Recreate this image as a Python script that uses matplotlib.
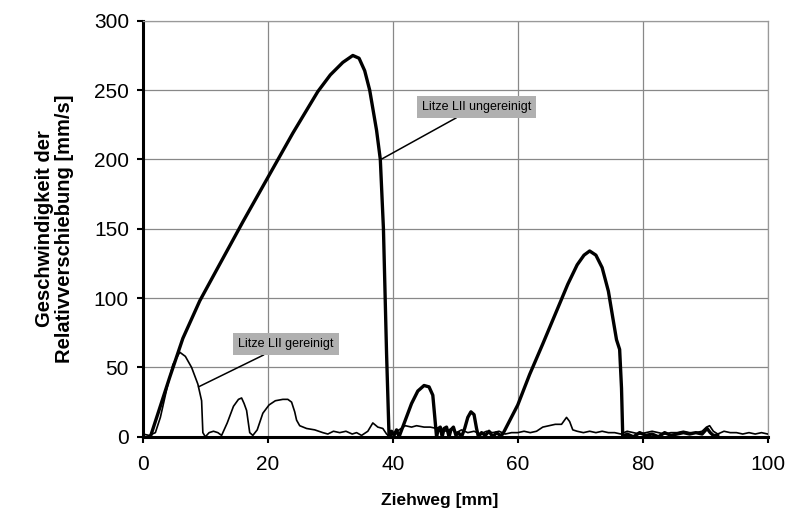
import matplotlib
matplotlib.use("Agg")
import matplotlib.pyplot as plt

# Litze LII ungereinigt (thick curve)
x_ungereinigt = [1.2, 2.5, 4.3, 6.4, 9.1, 12, 16, 20, 24, 28, 30, 32, 33.6, 34.6, 35.5,
                 36.3, 37.4, 38.0, 38.5, 39.0, 39.4, 39.8, 40.2, 40.6, 41.0,
                 42, 43, 44, 45, 45.8, 46.4, 46.8, 47.0, 47.3, 47.6, 47.9, 48.2,
                 48.6, 49.0, 49.3, 49.7, 50.1, 50.5, 51.0, 51.5, 52.0, 52.5, 53.0,
                 53.4, 53.7, 54.2, 54.8, 55.4, 56.0, 56.6, 57.2, 57.6,
                 60, 61.9, 64, 66.7, 68, 69.5, 70.6, 71.5, 72.5, 73.5, 74.5, 75.2,
                 75.8, 76.3, 76.6, 76.8, 77.5, 78.5, 79.5, 80.5, 81.5, 82.5, 83.5,
                 84.5, 85.5, 86.5, 87.5, 88.5, 89.5, 90.3, 90.8, 91.3, 92.0]
y_ungereinigt = [0, 18, 43, 71, 98, 122, 155, 187, 219, 249, 261, 270, 275, 273, 264,
                 250, 221, 200, 150, 60, 0, 4, 1, 5, 0,
                 12, 24, 33, 37, 36, 30, 10, 0, 6, 7, 0, 6,
                 7, 0, 5, 7, 1, 3, 0, 6, 14, 18, 16,
                 6, 0, 3, 1, 4, 0, 3, 1, 2,
                 23, 45, 67, 96, 110, 124, 131, 134, 131, 122, 105, 86,
                 70, 63, 35, 0, 2, 0, 3, 1, 2, 0, 3,
                 1, 2, 3, 2, 3, 2, 6, 3, 1, 1]

# Litze LII gereinigt (thin curve)
x_gereinigt = [0, 1, 2, 2.8, 3.8, 4.8, 5.9, 6.8, 7.8, 8.8, 9.4, 9.6, 10.0, 10.6, 11.3,
               12.0, 12.6, 13.5, 14.5, 15.3, 15.8, 16.2, 16.6, 17.1, 17.6, 18.3,
               19.2, 20.2, 21.2, 22.4, 23.2, 23.8, 24.3, 24.6, 25.1, 26.2, 27.5,
               28.8, 29.6, 30.5, 31.5, 32.5, 33.5, 34.2, 35.0, 36.0, 36.8, 37.6,
               38.4, 39.0, 39.5, 40.2, 41.0, 42.0, 43.0, 43.8, 45.0, 46.0, 47.0,
               47.8, 48.6, 49.4, 50.2, 51.0, 52.0, 53.0, 54.0, 55.0, 56.0, 57.0,
               58.0, 59.0, 60.0, 61.0, 62.0, 63.0, 64.0, 65.0, 66.0, 67.0, 67.8,
               68.3, 68.8, 69.5, 70.5, 71.5, 72.5, 73.5, 74.5, 75.5, 76.5, 77.5,
               78.5, 79.5, 80.5, 81.5, 82.5, 83.5, 84.5, 85.5, 86.5, 87.5, 88.5,
               89.5, 90.2, 90.7, 91.3, 92.0, 93.0, 94.0, 95.0, 96.0, 97.0, 98.0,
               99.0, 100.0]
y_gereinigt = [2, 1, 3, 14, 34, 52, 61, 58, 50, 38, 26, 3, 0, 3, 4,
               3, 1, 10, 22, 27, 28, 24, 19, 3, 1, 5,
               17, 23, 26, 27, 27, 25, 18, 12, 8, 6, 5,
               3, 2, 4, 3, 4, 2, 3, 1, 4, 10, 7,
               6, 2, 0, 3, 5, 8, 7, 8, 7, 7, 6,
               5, 4, 6, 3, 5, 3, 4, 2, 4, 3, 4,
               2, 3, 3, 4, 3, 4, 7, 8, 9, 9, 14,
               11, 5, 4, 3, 4, 3, 4, 3, 3, 2, 4,
               3, 2, 3, 4, 3, 2, 3, 3, 4, 3, 3,
               4, 7, 8, 4, 2, 4, 3, 3, 2, 3, 2,
               3, 2]

plt.rcParams['font.family'] = ['Liberation Sans', 'DejaVu Sans']

fig = plt.figure(figsize=(7.85, 5.2), dpi=100)
ax = fig.add_axes([0.182, 0.160, 0.796, 0.800])

ax.plot(x_gereinigt, y_gereinigt, color='black', lw=1.2, zorder=3)
ax.plot(x_ungereinigt, y_ungereinigt, color='black', lw=2.4, zorder=4)

ax.set_xlim(0, 100)
ax.set_ylim(0, 300)
ax.set_xticks([0, 20, 40, 60, 80, 100])
ax.set_yticks([0, 50, 100, 150, 200, 250, 300])
ax.grid(True, color='#888888', lw=0.9)
ax.set_axisbelow(True)

for side in ['top', 'right']:
    ax.spines[side].set_color('#999999')
    ax.spines[side].set_linewidth(0.9)
for side in ['left', 'bottom']:
    ax.spines[side].set_color('black')
    ax.spines[side].set_linewidth(2.2)

ax.tick_params(axis='both', labelsize=15, length=4, width=1.5, color='black')
ax.tick_params(axis='x', pad=9)
ax.tick_params(axis='y', pad=6)

ax.set_xlabel('Ziehweg [mm]', fontsize=12.5, fontweight='bold', labelpad=14, x=0.475)
ax.set_ylabel('Geschwindigkeit der\nRelativverschiebung [mm/s]', fontsize=14.5,
              fontweight='bold', labelpad=14, linespacing=1.1)

box = dict(boxstyle='square,pad=0.4', facecolor='#b0b0b0', edgecolor='none')
ax.annotate('Litze LII ungereinigt', xy=(38.1, 200), xytext=(44.6, 238),
            fontsize=9, va='center', ha='left', bbox=box,
            arrowprops=dict(arrowstyle='-', color='black', lw=1.1,
                            shrinkA=0, shrinkB=0), zorder=6)
ax.annotate('Litze LII gereinigt', xy=(8.9, 36), xytext=(15.3, 67),
            fontsize=9, va='center', ha='left', bbox=box,
            arrowprops=dict(arrowstyle='-', color='black', lw=1.1,
                            shrinkA=0, shrinkB=0), zorder=6)

fig.savefig('out.png', dpi=100)
